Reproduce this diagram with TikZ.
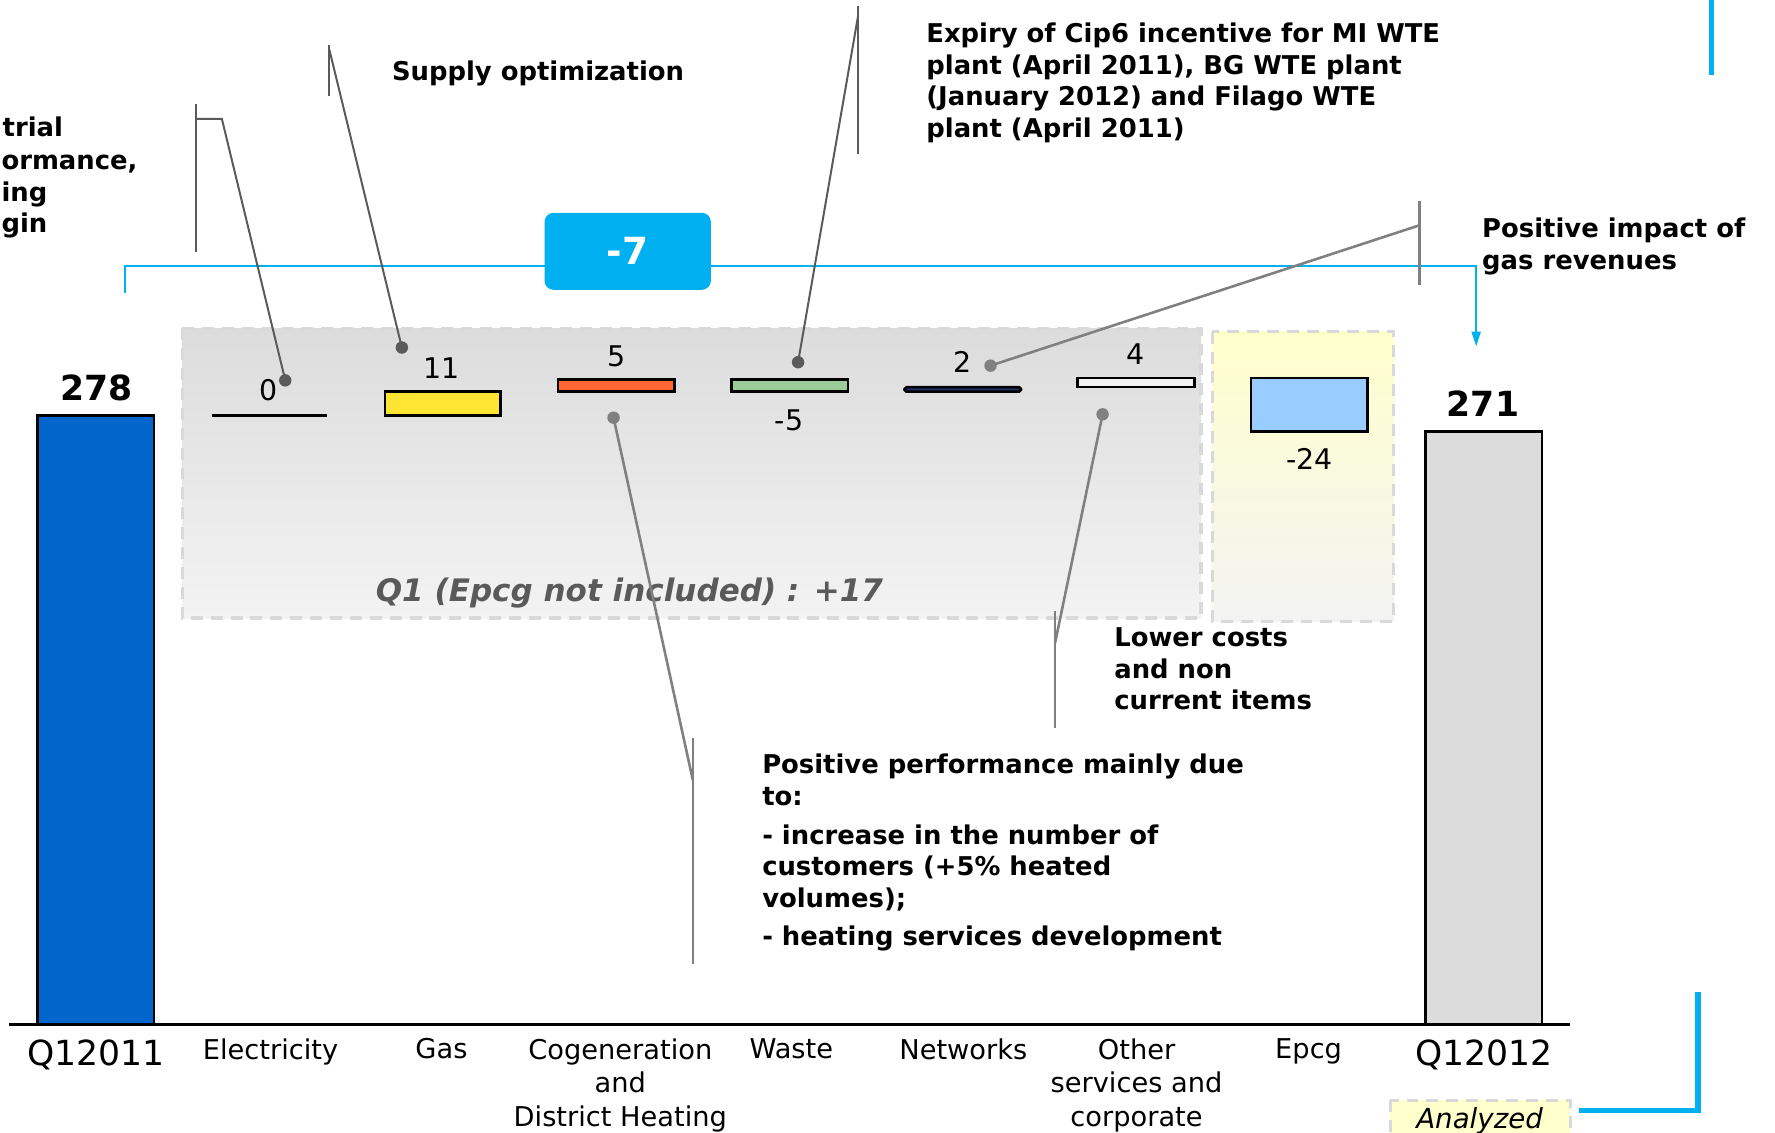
\documentclass[tikz,border=0pt]{standalone}
\usepackage{fontspec}
\setmainfont{DejaVu Sans}
\usetikzlibrary{arrows.meta}

\definecolor{startblue}{HTML}{0066CC}
\definecolor{endgray}{HTML}{DCDCDC}
\definecolor{gasyellow}{HTML}{FFE533}
\definecolor{cogenred}{HTML}{FF6633}
\definecolor{wastegreen}{HTML}{99CC99}
\definecolor{netnavy}{HTML}{1F2F5F}
\definecolor{othergray}{HTML}{F4F4F4}
\definecolor{epcgblue}{HTML}{99CCFF}
\definecolor{accentblue}{HTML}{00B0F0}
\definecolor{dashgray}{HTML}{D9D9D9}
\definecolor{boxtop}{HTML}{DCDCDC}
\definecolor{boxbottom}{HTML}{F3F3F3}
\definecolor{paleyellow}{HTML}{FFFFCC}
\definecolor{calloutdark}{HTML}{5A5A5A}
\definecolor{calloutlight}{HTML}{808080}

\begin{document}
\begin{tikzpicture}[x=0.02cm, y=-0.02cm,
    bar/.style={draw=black, line width=1.3pt},
    dashbox/.style={draw=dashgray, line width=1.6pt, dash pattern=on 6pt off 4pt},
    valnum/.style={font=\fontsize{14.3}{17}\selectfont, inner sep=0pt},
    total/.style={font=\fontsize{17.4}{20}\selectfont\bfseries, inner sep=0pt},
    catname/.style={font=\fontsize{13.7}{17}\selectfont, align=center, anchor=north, inner sep=0pt},
    endname/.style={font=\fontsize{17.4}{20}\selectfont, anchor=north, inner sep=0pt},
    note/.style={font=\fontsize{13}{15.9}\selectfont\bfseries, align=left, anchor=north west, inner sep=0pt},
    edgenote/.style={font=\fontsize{13}{15.9}\selectfont\bfseries, anchor=mid west, inner sep=0pt},
    darkline/.style={draw=calloutdark, line width=1pt},
    lightline/.style={draw=calloutlight, line width=1.3pt},
    dot/.style={circle, inner sep=0pt, minimum size=0.22cm},
    accent/.style={draw=accentblue, line width=1pt}
]

    % Page frame
    \useasboundingbox (0,0) rectangle (1568,1000);
    \clip (0,0) rectangle (1568,1000);

    % Shaded groups behind the steps
    \shade[top color=boxtop, bottom color=boxbottom] (161,290) rectangle (1061,546);
    \draw[dashbox] (161,290) rectangle (1061,546);
    \shade[top color=paleyellow, bottom color=boxbottom] (1071,293) rectangle (1231,549);
    \draw[dashbox] (1071,293) rectangle (1231,549);
    \node[font=\fontsize{15.6}{18}\selectfont\bfseries\itshape, text=calloutdark, inner sep=0pt]
        (q1note) at (556,524) {Q1 (Epcg not included) : +17};

    % Axis
    \draw[line width=1.6pt] (8,905) -- (1387,905);

    % Totals
    \draw[bar, fill=startblue] (33,367) rectangle (136,905);
    \draw[bar, fill=endgray] (1259,381) rectangle (1362,905);
    \node[total] (tot11) at (85,343) {278};
    \node[total] (tot12) at (1310,357) {271};

    % Steps
    \draw[line width=1.6pt] (187,367) -- (289,367);
    \draw[bar, fill=gasyellow] (340,346) rectangle (442,367);
    \draw[bar, fill=cogenred] (493,335) rectangle (596,346);
    \draw[bar, fill=wastegreen] (646,335) rectangle (749,346);
    \draw[bar, fill=netnavy, rounded corners=1pt] (799,342) rectangle (902,346);
    \draw[bar, fill=othergray] (952,334) rectangle (1055,342);
    \draw[bar, fill=epcgblue] (1105,334) rectangle (1208,381);

    % Step values
    \node[valnum] (vElec) at (237,345) {0};
    \node[valnum] (vGas) at (390,325) {11};
    \node[valnum] (vCogen) at (545,315) {5};
    \node[valnum] (vWaste) at (697,371) {-5};
    \node[valnum] (vNet) at (850,320) {2};
    \node[valnum] (vOther) at (1003,313) {4};
    \node[valnum] (vEpcg) at (1157,405) {-24};

    % Categories
    \node[endname] (cQ11) at (85,918) {Q12011};
    \node[catname] (cElec) at (239,917) {Electricity};
    \node[catname] (cGas) at (390,917) {Gas};
    \node[catname] (cCogen) at (548,917) {Cogeneration\\and\\District Heating};
    \node[catname] (cWaste) at (699,917) {Waste};
    \node[catname] (cNet) at (851,917) {Networks};
    \node[catname] (cOther) at (1004,917) {Other\\services and\\corporate};
    \node[catname] (cEpcg) at (1156,917) {Epcg};
    \node[endname] (cQ12) at (1311,918) {Q12012};

    % Overall gap bracket
    \coordinate (brkLeft) at (110,259);
    \coordinate (brkLeftTop) at (110,235);
    \coordinate (brkRightTop) at (1304,235);
    \coordinate (brkEnd) at (1304,306);
    \draw[accent, -{Triangle[length=0.26cm, width=0.16cm]}]
        (brkLeft) -- (brkLeftTop) -- (brkRightTop) -- (brkEnd);
    \node[fill=accentblue, rounded corners=0.16cm, minimum width=2.94cm, minimum height=1.36cm,
        text=white, font=\fontsize{18.8}{22}\selectfont\bfseries, inner sep=0pt] (gap) at (554.5,222) {-7};

    % Frame marks
    \draw[accentblue, line width=2.6pt] (1512,0) -- (1512,66);
    \draw[accentblue, line width=2.6pt] (1395,981) -- (1500,981) -- (1500,876);
    \fill[paleyellow] (1228,972) rectangle (1387,1010);
    \draw[dashbox] (1228,972) rectangle (1387,1010);
    \node[font=\fontsize{13.9}{17}\selectfont\itshape, inner sep=0pt] (analyzed) at (1307,990) {Analyzed};

    % Notes
    \node[edgenote] (leftA) at (2,116) {trial};
    \node[edgenote] (leftB) at (1,145) {ormance,};
    \node[edgenote] (leftC) at (1,173) {ing};
    \node[edgenote] (leftD) at (1,201) {gin};
    \node[note] (supply) at (346,53) {Supply optimization};
    \node[note] (expiry) at (818,20) {Expiry of Cip6 incentive for MI WTE\\plant (April 2011), BG WTE plant\\(January 2012) and Filago WTE\\plant (April 2011)};
    \node[note] (gasrev) at (1309,192) {Positive impact of\\gas revenues};
    \node[note] (lower) at (984,554) {Lower costs\\and non\\current items};
    \node[note] (heating) at (673,666) {Positive performance mainly due\\to:\\[0.12cm]- increase in the number of\\customers (+5\% heated\\volumes);\\[0.12cm]- heating services development};

    % Callouts
    \coordinate (elecTop) at (173,92);
    \coordinate (elecBot) at (173,223);
    \coordinate (elecHook) at (173,105);
    \coordinate (elecBend) at (196,105);
    \node[dot] (elecDot) at (252,336) {};
    \draw[darkline] (elecTop) -- (elecBot);
    \draw[darkline] (elecHook) -- (elecBend) -- (elecDot.center);
    \fill[calloutdark] (elecDot) circle (0.11cm);

    \coordinate (supTop) at (291,40);
    \coordinate (supBot) at (291,85);
    \coordinate (supHook) at (291,44);
    \node[dot] (supDot) at (355,307) {};
    \draw[darkline] (supTop) -- (supBot);
    \draw[darkline] (supHook) -- (supDot.center);
    \fill[calloutdark] (supDot) circle (0.11cm);

    \coordinate (expTop) at (758,5);
    \coordinate (expBot) at (758,136);
    \coordinate (expHook) at (758,14);
    \node[dot] (expDot) at (705,320) {};
    \draw[darkline] (expTop) -- (expBot);
    \draw[darkline] (expHook) -- (expDot.center);
    \fill[calloutdark] (expDot) circle (0.11cm);

    \coordinate (revTop) at (1254,178);
    \coordinate (revBot) at (1254,252);
    \coordinate (revHook) at (1254,199);
    \node[dot] (revDot) at (875,323) {};
    \draw[lightline] (revTop) -- (revBot);
    \draw[lightline] (revHook) -- (revDot.center);
    \fill[calloutlight] (revDot) circle (0.11cm);

    \coordinate (lowTop) at (932,540);
    \coordinate (lowBot) at (932,643);
    \coordinate (lowHook) at (932,568);
    \node[dot] (lowDot) at (974,366) {};
    \draw[lightline] (lowTop) -- (lowBot);
    \draw[lightline] (lowHook) -- (lowDot.center);
    \fill[calloutlight] (lowDot) circle (0.11cm);

    \coordinate (heatTop) at (612,652);
    \coordinate (heatBot) at (612,852);
    \coordinate (heatHook) at (612,689);
    \node[dot] (heatDot) at (542,369) {};
    \draw[lightline] (heatTop) -- (heatBot);
    \draw[lightline] (heatHook) -- (heatDot.center);
    \fill[calloutlight] (heatDot) circle (0.11cm);

\end{tikzpicture}
\end{document}
